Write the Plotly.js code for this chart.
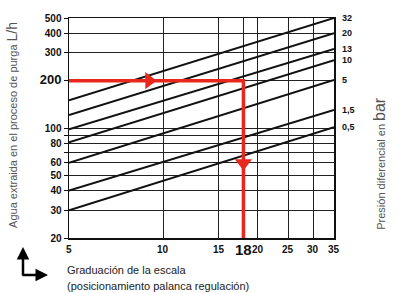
<!DOCTYPE html>
<html><head><meta charset="utf-8">
<script src="https://cdn.plot.ly/plotly-3.0.1.min.js"></script>
<style>html,body{margin:0;padding:0;background:#fff;}#chart{width:398px;height:293px;}</style>
</head><body><div id="chart"></div>
<script>
// Scale graduation range (x) and pressure lines (bar)
const xRange = [5, 35];
const pressures = ['32', '20', '13', '10', '5', '1,5', '0,5'];
const flowAtX5 = [150, 121, 98, 81, 60, 40, 30];
const flowAtX35 = [500, 400, 318, 270, 202, 130, 101];

// Example reading (red)
const exampleX = [5, 18, 18];
const exampleY = [200, 200, 20];
const arrowX = [9, 18];
const arrowY = [200, 60];
const arrowSymbols = ['triangle-right', 'triangle-down'];

// Ticks
const xTickVals = [5, 10, 15, 18, 20, 25, 30, 35];
const xTickText = ['5', '10', '15', '<span style="font-size:15px">18</span>', '20', '25', '30', '35'];
const yTickVals = [20, 30, 40, 50, 60, 70, 80, 90, 100, 200, 300, 400, 500];
const yTickText = ['20', '30', '40', '50', '60', '', '80', '', '100', '<span style="font-size:13px">200</span>', '300', '400', '500'];

const red = '#e8281e';
const FONT = 'Liberation Sans, Arial, sans-serif';
const traces = [];
pressures.forEach((p, i) => {
  traces.push({x: xRange, y: [flowAtX5[i], flowAtX35[i]], mode: 'lines', type: 'scatter',
    line: {color: '#111', width: 2}, showlegend: false});
});
traces.push({x: exampleX, y: exampleY, mode: 'lines', type: 'scatter',
  line: {color: red, width: 3.5}, showlegend: false});
traces.push({x: arrowX, y: arrowY, mode: 'markers', type: 'scatter',
  marker: {symbol: arrowSymbols, size: 15, color: red, line: {width: 0}},
  showlegend: false, cliponaxis: false});

const annotations = pressures.map((p, i) => ({
  x: 1, xref: 'paper', xanchor: 'left', xshift: 6, y: Math.log10(flowAtX35[i]), yref: 'y', yanchor: 'middle',
  text: p, showarrow: false, font: {family: FONT, size: 9, color: '#111', weight: 'bold'}
}));
xTickVals.forEach((v, i) => {
  annotations.push({x: Math.log10(v), xref: 'x', y: 0, yref: 'paper', yanchor: 'middle', yshift: -11,
    xanchor: 'center', text: xTickText[i], showarrow: false,
    font: {family: FONT, size: 10, color: '#111', weight: 'bold'}});
});
annotations.push({x: -0.1736, xref: 'paper', y: -0.041, yref: 'paper', text: '', showarrow: true,
  ax: 0, ay: 30, arrowhead: 2, arrowwidth: 2.5, arrowcolor: '#000'});
annotations.push({x: -0.0792, xref: 'paper', y: -0.168, yref: 'paper', text: '', showarrow: true,
  ax: -27, ay: 0, arrowhead: 2, arrowwidth: 2.5, arrowcolor: '#000'});
annotations.push({x: 1.172, xref: 'paper', y: 0.34, yref: 'paper', xanchor: 'center', yanchor: 'middle',
  textangle: -90, showarrow: false,
  text: 'Presión diferencial en <span style="font-size:16px">bar</span>',
  font: {family: FONT, size: 11, color: '#555'}});
annotations.push({x: -0.215, xref: 'paper', y: 0.514, yref: 'paper', xanchor: 'center', yanchor: 'middle',
  textangle: -90, showarrow: false,
  text: 'Agua extraida en el proceso de purga <span style="font-size:14px">L/h</span>',
  font: {family: FONT, size: 11, color: '#555'}});
annotations.push({x: -0.015, xref: 'paper', y: -0.145, yref: 'paper', xanchor: 'left', yanchor: 'middle',
  showarrow: false, text: 'Graduación de la escala', font: {family: FONT, size: 11, color: '#222'}});
annotations.push({x: -0.015, xref: 'paper', y: -0.218, yref: 'paper', xanchor: 'left', yanchor: 'middle',
  showarrow: false, text: '(posicionamiento palanca regulación)', font: {family: FONT, size: 11, color: '#222'}});

const layout = {
  width: 398, height: 293, margin: {l: 69, r: 64, t: 18, b: 55}, showlegend: false,
  xaxis: {type: 'log', range: [Math.log10(5), Math.log10(35)], tickvals: xTickVals, showticklabels: false,
    ticks: '', gridcolor: '#222', showline: true, mirror: true, linecolor: '#111', linewidth: 1.5, zeroline: false},
  yaxis: {type: 'log', range: [Math.log10(20), Math.log10(500)], tickvals: yTickVals, ticktext: yTickText,
    tickfont: {family: FONT, size: 10, color: '#111', weight: 'bold'},
    ticks: 'outside', ticklen: 4, tickcolor: '#111', gridcolor: '#222',
    showline: true, mirror: true, linecolor: '#111', linewidth: 1.5, zeroline: false},
  annotations: annotations
};
Plotly.newPlot('chart', traces, layout, {staticPlot: true});
</script></body></html>
